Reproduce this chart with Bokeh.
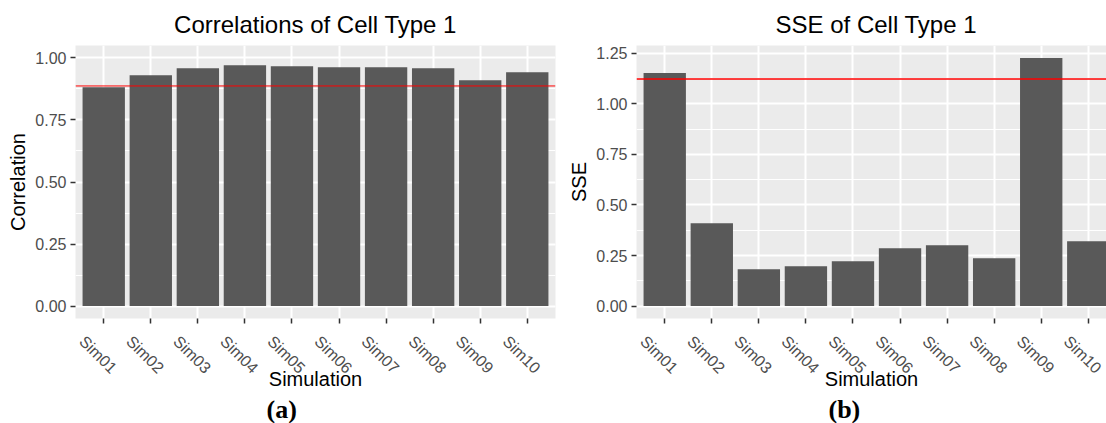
import math
from bokeh.plotting import figure
from bokeh.models import (ColumnDataSource, Range1d, FixedTicker, SingleIntervalTicker,
                          LinearAxis, Span, Title, NumeralTickFormatter,
                          CustomLabelingPolicy)
from bokeh.layouts import row
from bokeh.embed import file_html
from bokeh.resources import INLINE

# ---------------- data ----------------
sims = ["Sim01", "Sim02", "Sim03", "Sim04", "Sim05",
        "Sim06", "Sim07", "Sim08", "Sim09", "Sim10"]
corr = [0.882, 0.930, 0.958, 0.970, 0.966, 0.962, 0.962, 0.958, 0.910, 0.942]
corr_ref = 0.887
sse = [1.153, 0.409, 0.182, 0.197, 0.222, 0.286, 0.301, 0.237, 1.227, 0.320]
sse_ref = 1.123

FONT = "Liberation Sans"
BAR = "#595959"
PANEL_BG = "#EBEBEB"
TICK_TXT = "#4D4D4D"
LABEL_SHIFT = 0.46  # horizontal shift of rotated tick labels (category units)

pos = list(range(1, len(sims) + 1))

HIDE_LABELS = """
try { for (let i = 0; i < indices.size; i++) { indices.unset(i) } } catch (e) {}
return indices
"""


def make_panel(title, title_align, title_offset, ylabel, values, ref, y0, y1,
               width, b_left, b_right, x_end, caption, caption_offset, ref_width):
    src = ColumnDataSource(dict(x=pos, top=values, name=sims))
    p = figure(width=width, height=423, output_backend="svg", toolbar_location=None,
               x_range=Range1d(0.4, x_end), y_range=Range1d(y0, y1),
               min_border_left=b_left, min_border_right=b_right,
               min_border_top=45, min_border_bottom=104)
    p.title = Title(text=title, align=title_align, offset=title_offset,
                    text_font=FONT, text_font_size="24px", text_font_style="normal",
                    text_color="black", standoff=15)
    p.background_fill_color = PANEL_BG
    p.border_fill_color = "white"
    p.outline_line_color = None

    # grid
    p.ygrid.grid_line_color = "white"
    p.ygrid.grid_line_width = 2
    p.ygrid.minor_grid_line_color = "white"
    p.ygrid.minor_grid_line_width = 1
    p.xgrid.grid_line_color = "white"
    p.xgrid.grid_line_width = 2

    # y axis
    ya = p.yaxis[0]
    ya.ticker = SingleIntervalTicker(interval=0.25, num_minor_ticks=2)
    ya.formatter = NumeralTickFormatter(format="0.00")
    ya.axis_line_color = None
    ya.major_tick_out = 5
    ya.major_tick_in = 0
    ya.minor_tick_out = 0
    ya.minor_tick_in = 0
    ya.major_tick_line_color = "#333333"
    ya.major_tick_line_width = 1.5
    ya.major_label_text_font = FONT
    ya.major_label_text_font_size = "16px"
    ya.major_label_text_color = TICK_TXT
    ya.major_label_standoff = 4
    ya.axis_label = ylabel
    ya.axis_label_text_font = FONT
    ya.axis_label_text_font_size = "20px"
    ya.axis_label_text_font_style = "normal"
    ya.axis_label_text_color = "black"
    ya.axis_label_standoff = 3

    # x axis: tick marks only
    xa = p.xaxis[0]
    xa.ticker = FixedTicker(ticks=pos)
    xa.axis_line_color = None
    xa.major_tick_out = 5
    xa.major_tick_in = 0
    xa.minor_tick_out = 0
    xa.minor_tick_in = 0
    xa.major_tick_line_color = "#333333"
    xa.major_tick_line_width = 1.5
    xa.major_label_text_font_size = "0px"
    xa.major_label_standoff = 0
    xa.major_label_policy = CustomLabelingPolicy(code=HIDE_LABELS)
    p.xgrid.ticker = FixedTicker(ticks=pos)

    # x axis: rotated category labels
    p.extra_x_ranges = {"lab": Range1d(0.4 + LABEL_SHIFT, x_end + LABEL_SHIFT)}
    la = LinearAxis(x_range_name="lab", ticker=FixedTicker(ticks=pos),
                    major_label_overrides={i: s for i, s in zip(pos, sims)})
    la.axis_line_color = None
    la.major_tick_line_color = None
    la.major_tick_out = 0
    la.major_tick_in = 0
    la.minor_tick_out = 0
    la.minor_tick_in = 0
    la.major_label_orientation = -math.pi / 4
    la.major_label_text_font = FONT
    la.major_label_text_font_size = "16px"
    la.major_label_text_color = TICK_TXT
    la.major_label_standoff = 15
    la.axis_label = "Simulation"
    la.axis_label_text_font = FONT
    la.axis_label_text_font_size = "20px"
    la.axis_label_text_font_style = "normal"
    la.axis_label_text_color = "black"
    la.axis_label_standoff = -18
    p.add_layout(la, "below")

    p.vbar(x="x", top="top", width=0.9, source=src, color=BAR, line_color=None)
    p.add_layout(Span(location=ref, dimension="width", line_color="red",
                      line_width=ref_width))

    p.add_layout(Title(text=caption, align="left", offset=caption_offset,
                       text_font="Liberation Serif", text_font_style="bold",
                       text_font_size="26px", text_color="black", standoff=0), "below")
    return p


sse_pad = 0.05 * max(sse)
p1 = make_panel("Correlations of Cell Type 1", "center", 0, "Correlation", corr, corr_ref,
                -0.05, 1.05, width=560, b_left=75, b_right=5, x_end=10.6,
                caption="(a)", caption_offset=191, ref_width=1)
p2 = make_panel("SSE of Cell Type 1", "left", 139, "SSE", sse, sse_ref,
                -sse_pad, max(sse) + sse_pad, width=546, b_left=76, b_right=0,
                x_end=0.4 + 470 / 47.06, caption="(b)", caption_offset=192, ref_width=1.5)

layout = row(p1, p2)
open("out.html", "w").write(file_html(layout, INLINE))
